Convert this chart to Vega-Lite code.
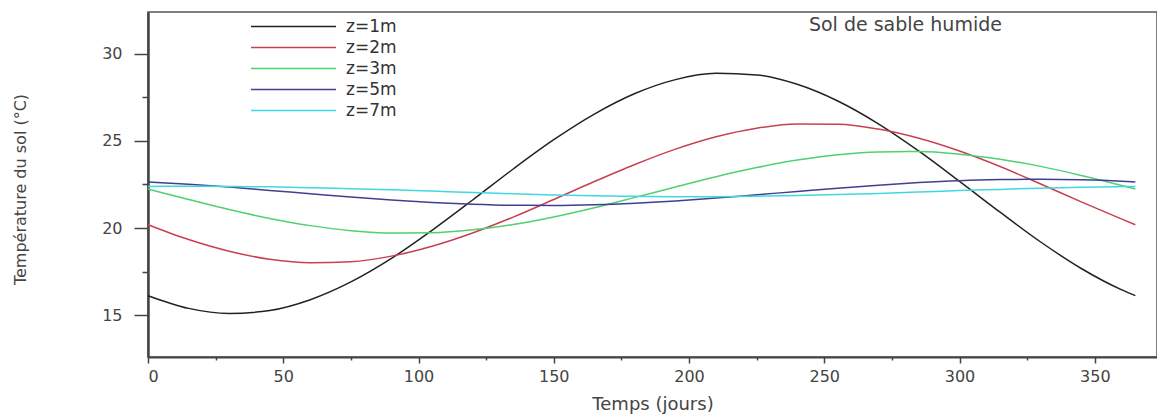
{
  "$schema": "https://vega.github.io/schema/vega-lite/v6.json",
  "width": 1009,
  "height": 345,
  "autosize": {"type": "none"},
  "padding": {"left": 148, "top": 12, "right": 0, "bottom": 61},
  "background": "white",
  "config": {
    "view": {"stroke": "#555", "strokeWidth": 1.5},
    "font": "DejaVu Sans"
  },
  "datasets": {
    "curves": [
    {"t":0,"T":16.12,"z":"z=1m"},{"t":15,"T":15.39,"z":"z=1m"},{"t":30,"T":15.10,"z":"z=1m"},{"t":45,"T":15.27,"z":"z=1m"},{"t":60,"T":15.89,"z":"z=1m"},{"t":75,"T":16.91,"z":"z=1m"},{"t":90,"T":18.26,"z":"z=1m"},{"t":105,"T":19.87,"z":"z=1m"},{"t":120,"T":21.61,"z":"z=1m"},{"t":135,"T":23.39,"z":"z=1m"},{"t":150,"T":25.07,"z":"z=1m"},{"t":165,"T":26.54,"z":"z=1m"},{"t":180,"T":27.72,"z":"z=1m"},{"t":195,"T":28.52,"z":"z=1m"},{"t":210,"T":28.88,"z":"z=1m"},{"t":225,"T":28.79,"z":"z=1m"},{"t":240,"T":28.25,"z":"z=1m"},{"t":255,"T":27.29,"z":"z=1m"},{"t":270,"T":25.98,"z":"z=1m"},{"t":285,"T":24.41,"z":"z=1m"},{"t":300,"T":22.68,"z":"z=1m"},{"t":315,"T":20.91,"z":"z=1m"},{"t":330,"T":19.20,"z":"z=1m"},{"t":345,"T":17.68,"z":"z=1m"},{"t":360,"T":16.45,"z":"z=1m"},{"t":365,"T":16.12,"z":"z=1m"},
    {"t":0,"T":20.19,"z":"z=2m"},{"t":15,"T":19.34,"z":"z=2m"},{"t":30,"T":18.67,"z":"z=2m"},{"t":45,"T":18.21,"z":"z=2m"},{"t":60,"T":18.01,"z":"z=2m"},{"t":75,"T":18.07,"z":"z=2m"},{"t":90,"T":18.39,"z":"z=2m"},{"t":105,"T":18.96,"z":"z=2m"},{"t":120,"T":19.72,"z":"z=2m"},{"t":135,"T":20.63,"z":"z=2m"},{"t":150,"T":21.64,"z":"z=2m"},{"t":165,"T":22.67,"z":"z=2m"},{"t":180,"T":23.65,"z":"z=2m"},{"t":195,"T":24.53,"z":"z=2m"},{"t":210,"T":25.24,"z":"z=2m"},{"t":225,"T":25.73,"z":"z=2m"},{"t":240,"T":25.97,"z":"z=2m"},{"t":255,"T":25.96,"z":"z=2m"},{"t":270,"T":25.68,"z":"z=2m"},{"t":285,"T":25.15,"z":"z=2m"},{"t":300,"T":24.42,"z":"z=2m"},{"t":315,"T":23.53,"z":"z=2m"},{"t":330,"T":22.53,"z":"z=2m"},{"t":345,"T":21.50,"z":"z=2m"},{"t":360,"T":20.51,"z":"z=2m"},{"t":365,"T":20.19,"z":"z=2m"},
    {"t":0,"T":22.24,"z":"z=3m"},{"t":15,"T":21.64,"z":"z=3m"},{"t":30,"T":21.06,"z":"z=3m"},{"t":45,"T":20.55,"z":"z=3m"},{"t":60,"T":20.14,"z":"z=3m"},{"t":75,"T":19.85,"z":"z=3m"},{"t":90,"T":19.71,"z":"z=3m"},{"t":105,"T":19.73,"z":"z=3m"},{"t":120,"T":19.90,"z":"z=3m"},{"t":135,"T":20.21,"z":"z=3m"},{"t":150,"T":20.64,"z":"z=3m"},{"t":165,"T":21.17,"z":"z=3m"},{"t":180,"T":21.76,"z":"z=3m"},{"t":195,"T":22.36,"z":"z=3m"},{"t":210,"T":22.95,"z":"z=3m"},{"t":225,"T":23.47,"z":"z=3m"},{"t":240,"T":23.90,"z":"z=3m"},{"t":255,"T":24.21,"z":"z=3m"},{"t":270,"T":24.37,"z":"z=3m"},{"t":285,"T":24.39,"z":"z=3m"},{"t":300,"T":24.24,"z":"z=3m"},{"t":315,"T":23.95,"z":"z=3m"},{"t":330,"T":23.54,"z":"z=3m"},{"t":345,"T":23.02,"z":"z=3m"},{"t":360,"T":22.44,"z":"z=3m"},{"t":365,"T":22.24,"z":"z=3m"},
    {"t":0,"T":22.65,"z":"z=5m"},{"t":15,"T":22.51,"z":"z=5m"},{"t":30,"T":22.35,"z":"z=5m"},{"t":45,"T":22.16,"z":"z=5m"},{"t":60,"T":21.97,"z":"z=5m"},{"t":75,"T":21.78,"z":"z=5m"},{"t":90,"T":21.61,"z":"z=5m"},{"t":105,"T":21.47,"z":"z=5m"},{"t":120,"T":21.37,"z":"z=5m"},{"t":135,"T":21.31,"z":"z=5m"},{"t":150,"T":21.30,"z":"z=5m"},{"t":165,"T":21.34,"z":"z=5m"},{"t":180,"T":21.43,"z":"z=5m"},{"t":195,"T":21.56,"z":"z=5m"},{"t":210,"T":21.72,"z":"z=5m"},{"t":225,"T":21.91,"z":"z=5m"},{"t":240,"T":22.10,"z":"z=5m"},{"t":255,"T":22.29,"z":"z=5m"},{"t":270,"T":22.46,"z":"z=5m"},{"t":285,"T":22.61,"z":"z=5m"},{"t":300,"T":22.72,"z":"z=5m"},{"t":315,"T":22.78,"z":"z=5m"},{"t":330,"T":22.80,"z":"z=5m"},{"t":345,"T":22.77,"z":"z=5m"},{"t":360,"T":22.69,"z":"z=5m"},{"t":365,"T":22.65,"z":"z=5m"},
    {"t":0,"T":22.39,"z":"z=7m"},{"t":15,"T":22.40,"z":"z=7m"},{"t":30,"T":22.39,"z":"z=7m"},{"t":45,"T":22.37,"z":"z=7m"},{"t":60,"T":22.32,"z":"z=7m"},{"t":75,"T":22.26,"z":"z=7m"},{"t":90,"T":22.20,"z":"z=7m"},{"t":105,"T":22.12,"z":"z=7m"},{"t":120,"T":22.04,"z":"z=7m"},{"t":135,"T":21.97,"z":"z=7m"},{"t":150,"T":21.90,"z":"z=7m"},{"t":165,"T":21.85,"z":"z=7m"},{"t":180,"T":21.82,"z":"z=7m"},{"t":195,"T":21.80,"z":"z=7m"},{"t":210,"T":21.80,"z":"z=7m"},{"t":225,"T":21.83,"z":"z=7m"},{"t":240,"T":21.87,"z":"z=7m"},{"t":255,"T":21.92,"z":"z=7m"},{"t":270,"T":21.99,"z":"z=7m"},{"t":285,"T":22.07,"z":"z=7m"},{"t":300,"T":22.15,"z":"z=7m"},{"t":315,"T":22.22,"z":"z=7m"},{"t":330,"T":22.29,"z":"z=7m"},{"t":345,"T":22.34,"z":"z=7m"},{"t":360,"T":22.38,"z":"z=7m"},{"t":365,"T":22.39,"z":"z=7m"}
    ],
    "note": [{"label": "Sol de sable humide", "t": 280, "T": 31.65}]
  },
  "layer": [
    {
      "data": {"name": "curves"},
      "mark": {"type": "line", "strokeWidth": 1.5, "interpolate": "monotone"},
      "encoding": {
        "x": {
          "field": "t", "type": "quantitative",
          "scale": {"domain": [0, 373], "nice": false, "zero": false},
          "axis": {
            "orient": "bottom", "values": [0, 50, 100, 150, 200, 250, 300, 350],
            "grid": false, "tickSize": 6, "tickWidth": 1.5, "tickColor": "#444",
            "domainColor": "#444", "domainWidth": 2,
            "labelFontSize": 16, "labelColor": "#444", "labelPadding": 5,
            "title": "Temps (jours)", "titleFontSize": 18, "titleFontWeight": "normal",
            "titleColor": "#444", "titleY": 47, "titleBaseline": "middle"
          }
        },
        "y": {
          "field": "T", "type": "quantitative",
          "scale": {"domain": [12.6, 32.4], "nice": false, "zero": false},
          "axis": {
            "orient": "left", "values": [15, 20, 25, 30],
            "grid": false, "tickSize": 14, "tickWidth": 1.5, "tickColor": "#444",
            "domainColor": "#444", "domainWidth": 2.5,
            "labelFontSize": 16, "labelColor": "#444", "labelPadding": 12,
            "title": "Température du sol (°C)", "titleFontSize": 16, "titleFontWeight": "normal",
            "titleColor": "#444", "titleX": -128, "titleY": 177,
            "titleAngle": -90, "titleAlign": "center", "titleBaseline": "middle"
          }
        },
        "color": {
          "field": "z", "type": "nominal",
          "scale": {
            "domain": ["z=1m", "z=2m", "z=3m", "z=5m", "z=7m"],
            "range": ["#222222", "#c8404f", "#50d070", "#404090", "#40d8e0"]
          },
          "legend": {
            "orient": "none", "legendX": 102, "legendY": 4, "padding": 0,
            "title": null, "symbolType": "stroke", "symbolSize": 7225,
            "symbolStrokeWidth": 1.5, "clipHeight": 21, "rowPadding": 0,
            "labelOffset": 9, "labelFontSize": 17, "labelColor": "#333",
            "labelFont": "DejaVu Sans"
          }
        }
      }
    },
    {
      "data": {"name": "note"},
      "mark": {"type": "text", "fontSize": 19, "color": "#444", "font": "DejaVu Sans", "align": "center", "baseline": "middle"},
      "encoding": {
        "x": {
          "field": "t", "type": "quantitative",
          "axis": {
            "orient": "bottom", "values": [25, 75, 125, 175, 225, 275, 325],
            "labels": false, "domain": false, "grid": false, "title": null,
            "tickSize": 3, "tickWidth": 1.5, "tickColor": "#444"
          }
        },
        "y": {
          "field": "T", "type": "quantitative",
          "axis": {
            "orient": "left", "values": [17.5, 22.5, 27.5],
            "labels": false, "domain": false, "grid": false, "title": null,
            "tickSize": 6, "tickWidth": 1.5, "tickColor": "#444"
          }
        },
        "text": {"field": "label"}
      }
    }
  ],
  "resolve": {"axis": {"x": "independent", "y": "independent"}}
}
